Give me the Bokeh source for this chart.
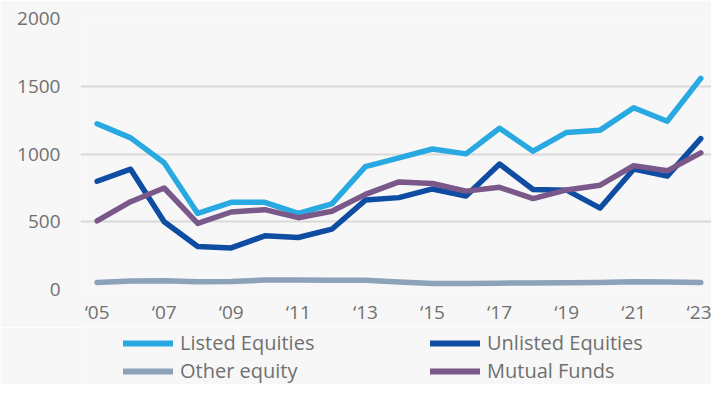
from bokeh.plotting import figure
from bokeh.models import Legend, LegendItem, FixedTicker, Range1d
from bokeh.layouts import column
from bokeh.embed import file_html
from bokeh.resources import INLINE

years = list(range(2005, 2024))
listed = [1223, 1119, 936, 561, 643, 643, 561, 632, 907, 971, 1037, 1001, 1190, 1021, 1159, 1176, 1341, 1242, 1558]
unlisted = [799, 888, 500, 318, 307, 396, 384, 445, 660, 678, 742, 690, 926, 738, 733, 601, 888, 837, 1114]
other = [52, 63, 64, 57, 59, 70, 71, 69, 69, 55, 45, 44, 47, 48, 50, 52, 57, 55, 52]
mutual = [507, 648, 749, 488, 572, 589, 530, 577, 702, 794, 782, 726, 754, 671, 735, 770, 914, 876, 1008]
tick_years = [2005, 2007, 2009, 2011, 2013, 2015, 2017, 2019, 2021, 2023]
tick_labels = ["\u201805", "\u201807", "\u201809", "\u201811", "\u201813", "\u201815", "\u201817", "\u201819", "\u201821", "\u201823"]
y_ticks = [0, 500, 1000, 1500, 2000]

names = ["Listed Equities", "Unlisted Equities", "Other equity", "Mutual Funds"]
colors = ["#29a9e1", "#0f4da3", "#8ba2b9", "#7a5889"]
series = [listed, unlisted, other, mutual]

FONT = "Open Sans"
TXT = "#707070"
BG = "#f7f7f7"

p = figure(width=711, height=327, output_backend="svg", toolbar_location=None,
           x_range=Range1d(2004.505, 2023.32), y_range=Range1d(0, 2000),
           background_fill_color=BG, border_fill_color=BG,
           min_border_left=80, min_border_right=0, min_border_top=18, min_border_bottom=37)
p.outline_line_color = None

for name, col, vals in zip(names, colors, series):
    p.line(years, vals, line_color=col, line_width=5.5, line_cap="round", line_join="round")

p.xaxis.ticker = FixedTicker(ticks=tick_years)
p.xaxis.major_label_overrides = {y: l for y, l in zip(tick_years, tick_labels)}
p.yaxis.ticker = FixedTicker(ticks=y_ticks)
for ax in (p.xaxis, p.yaxis):
    ax.axis_line_color = None
    ax.major_tick_line_color = None
    ax.minor_tick_line_color = None
    ax.major_tick_out = 0
    ax.major_tick_in = 0
    ax.minor_tick_out = 0
    ax.major_label_text_font = FONT
    ax.major_label_text_font_size = "19px"
    ax.major_label_text_color = TXT
p.yaxis.major_label_standoff = 20
p.xaxis.major_label_standoff = 9
p.xgrid.grid_line_color = None
p.ygrid.grid_line_color = "#d9d9d9"
p.ygrid.grid_line_width = 2

# legend strip (its frame is aligned with the main frame by the column layout)
lg = figure(width=711, height=57, output_backend="svg", toolbar_location=None,
            x_range=Range1d(0, 1), y_range=Range1d(0, 1),
            x_axis_type=None, y_axis_type=None,
            background_fill_color=BG, border_fill_color=BG,
            min_border_left=0, min_border_right=0, min_border_top=0, min_border_bottom=0)
lg.outline_line_color = None
lg.xgrid.visible = False
lg.ygrid.visible = False
proxies = {}
for name, col, vals in zip(names, colors, series):
    # same series, outside the strip's visible range: used only as legend swatches
    proxies[name] = lg.line(years, vals, line_color=col, line_width=6, line_cap="round")

def make_legend(item_names, x):
    L = Legend(items=[LegendItem(label=n, renderers=[proxies[n]]) for n in item_names],
               location=(x, 0), orientation="vertical")
    L.label_text_font = FONT
    L.label_text_font_size = "20px"
    L.label_text_color = TXT
    L.glyph_width = 50
    L.glyph_height = 22
    L.label_standoff = 7
    L.spacing = 1
    L.padding = 0
    L.margin = 0
    L.background_fill_alpha = 0
    L.border_line_alpha = 0
    return L

lg.add_layout(make_legend(["Listed Equities", "Other equity"], 43), "center")
lg.add_layout(make_legend(["Unlisted Equities", "Mutual Funds"], 350), "center")

layout = column(p, lg, spacing=0)
open("out.html", "w").write(file_html(layout, INLINE))
